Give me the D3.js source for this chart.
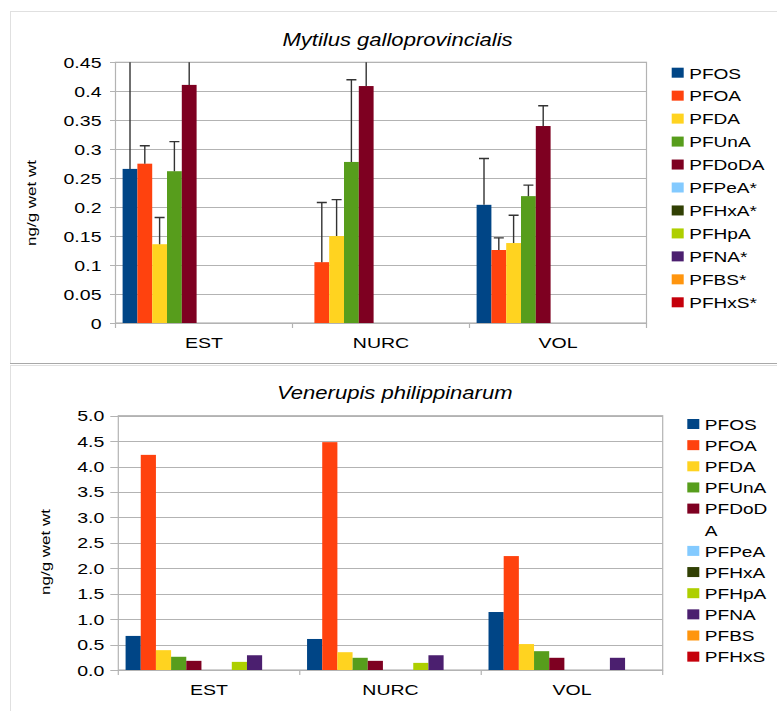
<!DOCTYPE html>
<html><head><meta charset="utf-8">
<script src="https://cdn.jsdelivr.net/npm/d3@7"></script>
<style>
body{margin:0;background:#fff}
svg{display:block}
text{font-family:"Liberation Sans",Arial,Helvetica,sans-serif;fill:#000}
</style>
</head><body>
<svg id="c" width="777" height="711"></svg>
<script>
// ---------- data ----------
const categories = ["EST", "NURC", "VOL"];
const series = ["PFOS","PFOA","PFDA","PFUnA","PFDoDA","PFPeA","PFHxA","PFHpA","PFNA","PFBS","PFHxS"];
const seriesColors = ["#004586","#ff420e","#ffd320","#579d1c","#7e0021","#83caff","#314004","#aecf00","#4b1f6f","#ff950e","#c5000b"];

const mytilusTitle = "Mytilus galloprovincialis";
const mytilusLegend = ["PFOS","PFOA","PFDA","PFUnA","PFDoDA","PFPeA*","PFHxA*","PFHpA","PFNA*","PFBS*","PFHxS*"];
// rows = series, columns = categories (EST, NURC, VOL)
const mytilusValues = [
  [0.266, null, 0.204],
  [0.275, 0.105, 0.126],
  [0.136, 0.150, 0.138],
  [0.262, 0.278, 0.219],
  [0.411, 0.409, 0.340],
  [null, null, null],
  [null, null, null],
  [null, null, null],
  [null, null, null],
  [null, null, null],
  [null, null, null]
];
const mytilusErrors = [
  [0.200, null, 0.080],
  [0.031, 0.103, 0.021],
  [0.046, 0.063, 0.048],
  [0.051, 0.142, 0.019],
  [0.050, 0.050, 0.035],
  [null, null, null],
  [null, null, null],
  [null, null, null],
  [null, null, null],
  [null, null, null],
  [null, null, null]
];
const mytilusTicks = [0, 0.05, 0.1, 0.15, 0.2, 0.25, 0.3, 0.35, 0.4, 0.45];
const mytilusTickLabels = ["0","0.05","0.1","0.15","0.2","0.25","0.3","0.35","0.4","0.45"];

const venerupisTitle = "Venerupis philippinarum";
const venerupisLegend = [["PFOS"],["PFOA"],["PFDA"],["PFUnA"],["PFDoD","A"],["PFPeA"],["PFHxA"],["PFHpA"],["PFNA"],["PFBS"],["PFHxS"]];
const venerupisValues = [
  [0.67, 0.61, 1.14],
  [4.23, 4.48, 2.24],
  [0.39, 0.35, 0.51],
  [0.26, 0.24, 0.37],
  [0.18, 0.18, 0.24],
  [null, null, null],
  [null, null, null],
  [0.16, 0.14, null],
  [0.29, 0.29, 0.24],
  [null, null, null],
  [null, null, null]
];
const venerupisTicks = [0, 0.5, 1.0, 1.5, 2.0, 2.5, 3.0, 3.5, 4.0, 4.5, 5.0];
const venerupisTickLabels = ["0.0","0.5","1.0","1.5","2.0","2.5","3.0","3.5","4.0","4.5","5.0"];

const yAxisLabel = "ng/g wet wt";

// ---------- drawing ----------
const svg = d3.select("#c");
const SX = 1.26;
const GRID = "#b3b3b3";

function txt(g, x, y, s, size, anchor, opts = {}) {
  const t = g.append("text")
    .attr("transform", `translate(${x},${y})${opts.rotate ? " rotate(-90)" : ""} scale(${opts.sx || SX},1)`)
    .attr("text-anchor", anchor)
    .style("font-size", size + "px")
    .text(s);
  if (opts.italic) t.style("font-style", "italic");
  return t;
}

// panel borders
svg.append("rect").attr("x", 10.5).attr("y", 11.5).attr("width", 800).attr("height", 352)
  .attr("fill", "none").attr("stroke", "#e0e0e0");
svg.append("line").attr("x1", 10).attr("x2", 777).attr("y1", 363.5).attr("y2", 363.5).attr("stroke", "#a8a8a8");
svg.append("rect").attr("x", 10.5).attr("y", 365.5).attr("width", 800).attr("height", 400)
  .attr("fill", "none").attr("stroke", "#e0e0e0");

function drawChart(cfg) {
  const g = svg.append("g");
  const x0 = d3.scaleBand().domain(categories).range([cfg.left, cfg.right]).padding(0);
  const x1 = d3.scaleBand().domain(series).range([0, x0.bandwidth()]).paddingInner(0).paddingOuter(0.48);
  const y = d3.scaleLinear().domain([0, cfg.max]).range([cfg.bottom, cfg.top]);

  // gridlines (with left tick extension)
  g.append("g").selectAll("line").data(cfg.ticks).join("line")
    .attr("x1", cfg.left - cfg.tickLen).attr("x2", cfg.right)
    .attr("y1", d => Math.round(y(d)) + 0.5).attr("y2", d => Math.round(y(d)) + 0.5)
    .attr("stroke", GRID).attr("stroke-width", 1.2);

  // plot frame
  g.append("rect").attr("x", cfg.left).attr("y", y(cfg.max)).attr("width", cfg.right - cfg.left)
    .attr("height", cfg.bottom - y(cfg.max)).attr("fill", "none").attr("stroke", GRID).attr("stroke-width", 1.2);

  // category separator ticks
  const seps = categories.map(c => x0(c)).concat([cfg.right]);
  g.append("g").selectAll("line").data(seps).join("line")
    .attr("x1", d => d).attr("x2", d => d).attr("y1", cfg.bottom).attr("y2", cfg.bottom + 5)
    .attr("stroke", GRID).attr("stroke-width", 1.2);

  // y tick labels
  const yl = g.append("g");
  cfg.ticks.forEach((t, i) => {
    txt(yl, cfg.left - 14, y(t) + 5.5, cfg.tickLabels[i], 15.5, "end");
  });

  // category labels
  categories.forEach(c => {
    txt(g, x0(c) + x0.bandwidth() / 2, cfg.bottom + 25, c, 15.5, "middle");
  });

  // bars
  const bars = [];
  series.forEach((s, si) => {
    categories.forEach((c, ci) => {
      const v = cfg.values[si][ci];
      if (v == null) return;
      bars.push({ s, si, c, v, e: cfg.errors ? cfg.errors[si][ci] : null });
    });
  });
  g.append("g").selectAll("rect").data(bars).join("rect")
    .attr("x", d => x0(d.c) + x1(d.s))
    .attr("width", x1.bandwidth())
    .attr("y", d => y(d.v))
    .attr("height", d => cfg.bottom - y(d.v))
    .attr("fill", d => seriesColors[d.si]);

  // error bars
  if (cfg.errors) {
    const cid = "clip" + cfg.id;
    g.append("clipPath").attr("id", cid).append("rect")
      .attr("x", cfg.left).attr("y", y(cfg.max)).attr("width", cfg.right - cfg.left).attr("height", cfg.bottom - y(cfg.max));
    const eg = g.append("g").attr("clip-path", `url(#${cid})`);
    const eb = bars.filter(d => d.e != null);
    eg.selectAll("line.v").data(eb).join("line").attr("class", "v")
      .attr("x1", d => x0(d.c) + x1(d.s) + x1.bandwidth() / 2)
      .attr("x2", d => x0(d.c) + x1(d.s) + x1.bandwidth() / 2)
      .attr("y1", d => y(d.v)).attr("y2", d => y(d.v + d.e))
      .attr("stroke", "#333").attr("stroke-width", 1.4);
    eg.selectAll("line.c").data(eb).join("line").attr("class", "c")
      .attr("x1", d => x0(d.c) + x1(d.s) + x1.bandwidth() / 2 - 5)
      .attr("x2", d => x0(d.c) + x1(d.s) + x1.bandwidth() / 2 + 5)
      .attr("y1", d => y(d.v + d.e)).attr("y2", d => y(d.v + d.e))
      .attr("stroke", "#333").attr("stroke-width", 1.4);
  }

  // title
  txt(g, cfg.titleX, cfg.titleY, cfg.title, 17.5, "middle", { italic: true });

  // y axis label
  txt(g, cfg.yLabelX, cfg.yLabelY, yAxisLabel, 13.5, "middle", { rotate: true });

  // legend
  const lg = g.append("g");
  let line = 0;
  cfg.legend.forEach((lab, i) => {
    const lines = Array.isArray(lab) ? lab : [lab];
    const cy = cfg.legY + line * cfg.legStep;
    lg.append("rect").attr("x", cfg.legX).attr("y", cy - 5).attr("width", 12).attr("height", 10)
      .attr("fill", seriesColors[i]);
    lines.forEach((ln, k) => {
      txt(lg, cfg.legX + 17.5, cy + 5.8 + k * cfg.legStep, ln, 15.5, "start", { sx: 1.23 });
    });
    line += lines.length;
  });
}

drawChart({
  id: "top", title: mytilusTitle, titleX: 397.5, titleY: 46,
  left: 115.5, right: 646.5, top: 62.3, bottom: 323, tickLen: 5.5,
  max: 0.45, ticks: mytilusTicks, tickLabels: mytilusTickLabels,
  values: mytilusValues, errors: mytilusErrors,
  yLabelX: 36, yLabelY: 203,
  legend: mytilusLegend, legX: 671.7, legY: 72.7, legStep: 22.96
});

drawChart({
  id: "bot", title: venerupisTitle, titleX: 394.7, titleY: 399,
  left: 118.3, right: 662.7, top: 415.7, bottom: 670, tickLen: 8,
  max: 5.0, ticks: venerupisTicks, tickLabels: venerupisTickLabels,
  values: venerupisValues, errors: null,
  yLabelX: 50, yLabelY: 552,
  legend: venerupisLegend, legX: 687.3, legY: 424, legStep: 21.15
});
</script>
</body></html>
